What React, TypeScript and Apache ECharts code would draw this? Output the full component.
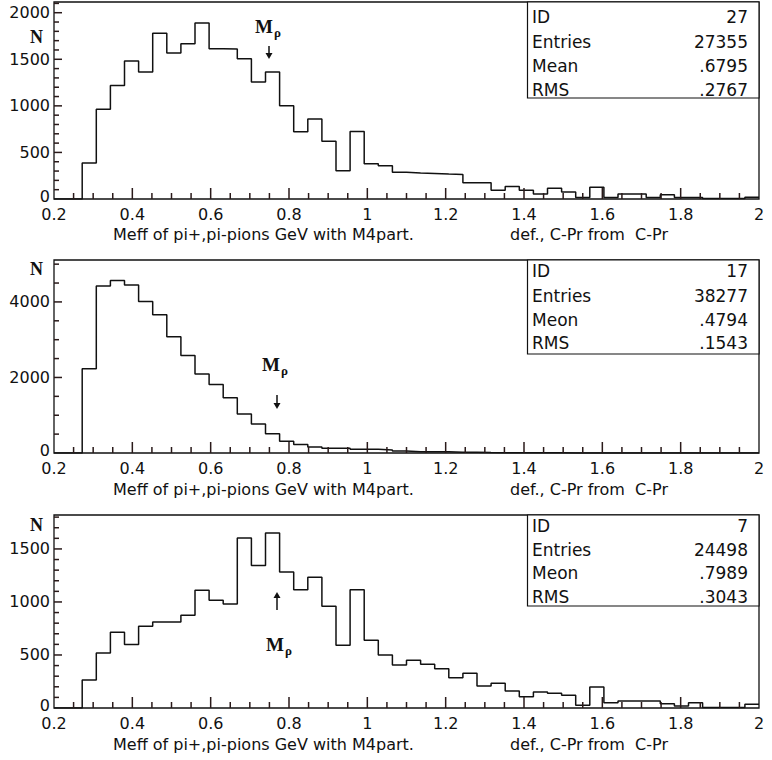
import React, { useEffect, useRef } from "react";
import * as echarts from "echarts";

// Histogram binning (50 bins from 0.2 to 2.0 GeV)
const BIN_LOW = 0.2;
const BIN_WIDTH = 0.036;

// Bin contents
const counts27 = [0, 0, 386, 964, 1218, 1482, 1364, 1779, 1568, 1668, 1889, 1614, 1610, 1507, 1257, 1364, 1000, 721, 860, 621, 304, 725, 379, 357, 286, 280, 275, 268, 262, 175, 175, 95, 135, 95, 55, 115, 75, 15, 125, 15, 55, 55, 15, 45, 15, 15, 5, 5, 5, 20];
const counts17 = [0, 0, 2230, 4420, 4569, 4446, 4009, 3659, 3081, 2582, 2092, 1812, 1462, 1033, 770, 508, 311, 222, 160, 124, 124, 98, 98, 80, 53, 36, 36, 36, 18, 18, 10, 8, 6, 5, 4, 4, 3, 3, 2, 2, 2, 2, 1, 1, 1, 1, 1, 1, 0, 0];
const counts7 = [0, 0, 264, 519, 714, 598, 770, 811, 811, 874, 1110, 1016, 981, 1604, 1343, 1651, 1283, 1116, 1233, 959, 591, 1116, 638, 500, 406, 450, 412, 371, 286, 327, 208, 233, 160, 105, 150, 140, 120, 25, 198, 50, 66, 66, 66, 41, 19, 50, 5, 5, 5, 35];

// Statistics boxes
const statLabels27 = ["ID", "Entries", "Mean", "RMS"];
const statValues27 = ["27", "27355", ".6795", ".2767"];
const statLabels17 = ["ID", "Entries", "Meon", "RMS"];
const statValues17 = ["17", "38277", ".4794", ".1543"];
const statLabels7 = ["ID", "Entries", "Meon", "RMS"];
const statValues7 = ["7", "24498", ".7989", ".3043"];

// Axis titles
const xTitleLeft = "Meff of pi+,pi-pions GeV with M4part.";
const xTitleRight = "def., C-Pr from  C-Pr";
const yTitle = "N";

// Axis ranges / ticks
const xMin = 0.2;
const xMax = 2;
const xInterval = 0.2;
const xMinorStep = 0.05;
const yMaxes = [2115, 5110, 1820];
const yMajor = [500, 2000, 500];
const yMinor = [100, 500, 100];

// Layout (pixels)
const GRID_LEFT = 54;
const GRID_RIGHT_X = 759;
const gridTops = [2, 260, 515];
const gridHeights = [197, 193, 193];
const statRowYs = [
  [17, 42, 66, 90],
  [271, 296, 320, 343],
  [526, 550, 573, 597],
];
const statBoxBottoms = [98, 354, 606];
const titleYs = [234, 489, 744];
const nYs = [37, 269, 525];

const SANS = "DejaVu Sans";
const SERIF = "Liberation Serif";
const INK = "#111";
const TICK = "#2a1a1a";

function toSteps(counts: number[]) {
  const pts: number[][] = counts.map((c, i) => [
    Math.round((BIN_LOW + i * BIN_WIDTH) * 1000) / 1000,
    c,
  ]);
  pts.push([xMax, counts[counts.length - 1]]);
  return pts;
}

export default function App() {
  const ref = useRef<HTMLDivElement>(null);

  useEffect(() => {
    if (!ref.current) return;
    const chart = echarts.init(ref.current, undefined, { renderer: "svg" });
    const allCounts = [counts27, counts17, counts7];
    const labelsAll = [statLabels27, statLabels17, statLabels7];
    const valuesAll = [statValues27, statValues17, statValues7];

    const grids = gridTops.map((t, i) => ({
      left: GRID_LEFT,
      width: GRID_RIGHT_X - GRID_LEFT,
      top: t,
      height: gridHeights[i],
      show: true,
      borderColor: INK,
      borderWidth: 1.3,
      backgroundColor: "transparent",
    }));

    const xAxes = gridTops.map((_, i) => ({
      type: "value",
      gridIndex: i,
      min: xMin,
      max: xMax,
      interval: xInterval,
      axisLine: { show: false },
      axisTick: { show: false },
      splitLine: { show: false },
      axisLabel: {
        show: true,
        margin: 8.5,
        fontSize: 16,
        lineHeight: 14,
        fontFamily: SANS,
        color: INK,
        formatter: (v: number) => String(Math.round(v * 10) / 10),
      },
    }));

    const yAxes = gridTops.map((_, i) => ({
      type: "value",
      gridIndex: i,
      position: "left",
      min: 0,
      max: yMaxes[i],
      interval: yMajor[i],
      axisLine: { show: false },
      axisTick: { show: false },
      splitLine: { show: false },
      axisLabel: {
        show: true,
        margin: 4,
        fontSize: 16,
        lineHeight: 13,
        fontFamily: SANS,
        color: INK,
        showMaxLabel: false,
        formatter: (v: number) => (v === 0 ? "{z|0}" : String(v)),
        rich: {
          z: { fontSize: 16, fontFamily: SANS, color: INK, padding: [0, 0, 6, 0] },
        },
      },
    }));

    const series: any[] = allCounts.map((c, i) => ({
      type: "line",
      xAxisIndex: i,
      yAxisIndex: i,
      step: "end",
      showSymbol: false,
      symbol: "none",
      data: toSteps(c),
      lineStyle: { color: INK, width: 1.5 },
      z: 3,
    }));

    // Inward tick marks drawn through the axes' own scales (custom series)
    gridTops.forEach((_, i) => {
      const nx = Math.round((xMax - xMin) / xMinorStep);
      const perMajor = Math.round(xInterval / xMinorStep);
      const xTicks: number[][] = [];
      for (let k = 1; k < nx; k++) {
        xTicks.push([Math.round((xMin + k * xMinorStep) * 1000) / 1000, 0, k % perMajor === 0 ? 1 : 0]);
      }
      const ny = Math.floor(yMaxes[i] / yMinor[i]);
      const ratio = Math.round(yMajor[i] / yMinor[i]);
      const yTicks: number[][] = [];
      for (let k = 1; k <= ny; k++) {
        yTicks.push([xMin, k * yMinor[i], k % ratio === 0 ? 1 : 0]);
      }
      series.push({
        type: "custom",
        coordinateSystem: "cartesian2d",
        xAxisIndex: i,
        yAxisIndex: i,
        silent: true,
        clip: false,
        z: 10,
        data: xTicks,
        renderItem: (params: any, api: any) => {
          const p = api.coord([api.value(0), api.value(1)]);
          const len = api.value(2) ? 11 : 6;
          return {
            type: "rect",
            shape: { x: p[0] - 0.75, y: p[1] - len, width: 1.5, height: len },
            style: { fill: TICK },
          };
        },
      });
      series.push({
        type: "custom",
        coordinateSystem: "cartesian2d",
        xAxisIndex: i,
        yAxisIndex: i,
        silent: true,
        clip: false,
        z: 10,
        data: yTicks,
        renderItem: (params: any, api: any) => {
          const p = api.coord([api.value(0), api.value(1)]);
          const len = api.value(2) ? 8 : 5;
          return {
            type: "rect",
            shape: { x: p[0], y: p[1] - 0.75, width: len, height: 1.5 },
            style: { fill: TICK },
          };
        },
      });
    });

    const graphics: any[] = [];
    gridTops.forEach((top, i) => {
      // stats box
      graphics.push({
        type: "rect",
        z: 100,
        shape: { x: 527.5, y: top, width: GRID_RIGHT_X - 527.5, height: statBoxBottoms[i] - top },
        style: { fill: "#fff", stroke: INK, lineWidth: 1.2 },
      });
      labelsAll[i].forEach((lab, r) => {
        graphics.push({
          type: "text",
          z: 101,
          x: 532,
          y: statRowYs[i][r],
          style: {
            text: lab,
            fontSize: 17,
            fontFamily: SANS,
            fill: INK,
            textAlign: "left",
            textVerticalAlign: "middle",
          },
        });
        graphics.push({
          type: "text",
          z: 101,
          x: 748,
          y: statRowYs[i][r],
          style: {
            text: valuesAll[i][r],
            fontSize: 17,
            fontFamily: SANS,
            fill: INK,
            textAlign: "right",
            textVerticalAlign: "middle",
          },
        });
      });
      // axis titles
      graphics.push({
        type: "text",
        z: 101,
        x: 113,
        y: titleYs[i],
        style: { text: xTitleLeft, fontSize: 16, fontFamily: SANS, fill: INK, textAlign: "left", textVerticalAlign: "middle" },
      });
      graphics.push({
        type: "text",
        z: 101,
        x: 510,
        y: titleYs[i],
        style: { text: xTitleRight, fontSize: 16, fontFamily: SANS, fill: INK, textAlign: "left", textVerticalAlign: "middle" },
      });
      graphics.push({
        type: "text",
        z: 101,
        x: 36.5,
        y: nYs[i],
        style: { text: yTitle, fontSize: 18, fontWeight: "bold", fontFamily: SERIF, fill: INK, textAlign: "center", textVerticalAlign: "middle" },
      });
    });

    // M_rho annotations
    const mrho = [
      { mx: 255, my: 26.5, arrowX: 269, y0: 46, y1: 59, down: true },
      { mx: 262, my: 364, arrowX: 277, y0: 395, y1: 409, down: true },
      { mx: 266, my: 644, arrowX: 277, y0: 592, y1: 610, down: false },
    ];
    mrho.forEach((m) => {
      graphics.push({
        type: "text",
        z: 101,
        x: m.mx,
        y: m.my,
        style: { text: "M", fontSize: 19, fontWeight: "bold", fontFamily: SERIF, fill: INK, textAlign: "left", textVerticalAlign: "middle" },
      });
      graphics.push({
        type: "text",
        z: 101,
        x: m.mx + 19,
        y: m.my + 6,
        style: { text: "ρ", fontSize: 13, fontWeight: "bold", fontFamily: SERIF, fill: INK, textAlign: "left", textVerticalAlign: "middle" },
      });
      if (m.down) {
        graphics.push({
          type: "line",
          z: 101,
          shape: { x1: m.arrowX, y1: m.y0, x2: m.arrowX, y2: m.y1 - 4 },
          style: { stroke: INK, lineWidth: 1.5 },
        });
        graphics.push({
          type: "polygon",
          z: 101,
          shape: { points: [[m.arrowX - 3.5, m.y1 - 6], [m.arrowX + 3.5, m.y1 - 6], [m.arrowX, m.y1]] },
          style: { fill: INK },
        });
      } else {
        graphics.push({
          type: "line",
          z: 101,
          shape: { x1: m.arrowX, y1: m.y0 + 4, x2: m.arrowX, y2: m.y1 },
          style: { stroke: INK, lineWidth: 1.5 },
        });
        graphics.push({
          type: "polygon",
          z: 101,
          shape: { points: [[m.arrowX - 3.5, m.y0 + 6], [m.arrowX + 3.5, m.y0 + 6], [m.arrowX, m.y0]] },
          style: { fill: INK },
        });
      }
    });

    chart.setOption({
      animation: false,
      backgroundColor: "#fff",
      grid: grids,
      xAxis: xAxes,
      yAxis: yAxes,
      series,
      graphic: graphics,
    });

    return () => chart.dispose();
  }, []);

  return (
    <div
      ref={ref}
      style={{ position: "absolute", left: 0, top: 0, width: 772, height: 760, background: "#fff" }}
    />
  );
}
